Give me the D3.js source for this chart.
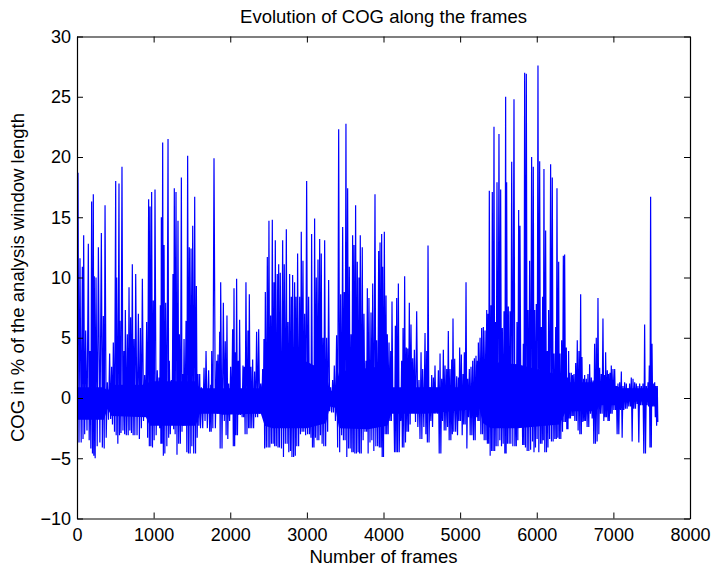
<!DOCTYPE html>
<html>
<head>
<meta charset="utf-8">
<script src="https://cdn.jsdelivr.net/npm/d3@7"></script>
<style>
  html, body { margin: 0; padding: 0; background: #fff; }
  svg { display: block; }
  text { font-family: "Liberation Sans", Arial, Helvetica, sans-serif; fill: #000; }
</style>
</head>
<body>
<svg id="chart" width="712" height="570"></svg>
<script>
// ---- data (local maxima / following minima) ----
const frames = [
  13,39,70,87,113,148,170,191,213,226,248,279,318,344,366,396,426,452,474,505,518,548,561,587,613,631,657,679,700,722,744,766,801,827,853,883,909,935,953,974,996,1018,1048,1070,1088,1101,1118,1136,1157,1188,1205,1231,1253,1270,1292,1318,1336,1362,1379,1397,1423,1444,1466,1488,1510,1536,1558,1579,1601,1623,1658,1684,1718,1745,1758,1788,1823,1840,1862,1875,1910,
  1935,1957,1979,2005,2031,2049,2066,2083,2105,2122,2144,2166,2183,2205,2231,2249,2270,2292,2318,2344,2371,2397,2423,2440,2458,2484,2505,2527,2549,2571,2588,2614,2632,2653,2684,2705,2732,2753,2775,2797,2814,2840,2858,2879,2906,2927,2949,2971,2997,3023,3045,3062,3084,3101,3123,3145,3167,3188,3210,3232,3258,3284,3310,3336,3358,3388,3415,3441,3467,3488,3510,3532,3554,3576,3597,3615,3636,3658,3680,3697,3723,3745,3771,3789,3810,
  3837,3859,3889,3911,3937,3955,3976,3989,4011,4033,4050,4072,4094,4111,4133,4155,4172,4194,4216,4237,4255,4276,4298,4316,4337,4359,4381,4403,4433,4463,4490,4511,4542,4564,4581,4607,4629,4651,4672,4694,4716,4738,4759,4781,4803,4825,4846,4868,4890,4907,4929,4955,4977,4994,5016,5038,5055,5077,5099,5120,5142,5164,5186,5207,5225,5238,5260,5281,5303,5325,5347,5364,5381,5403,5420,5442,5460,5481,5507,5529,5551,5573,5594,5607,5629,5651,5673,5703,5725,5742,
  5764,5781,5807,5825,5842,5864,5886,5907,5933,5955,5973,5994,6016,6038,6060,6077,6094,6116,6138,6155,6181,6203,6225,6247,6264,6286,6303,6325,6347,6364,6386,6399,6416,6429,6451,6468,6486,6508,6529,6551,6573,6590,6612,6625,6647,6668,6690,6712,6734,6755,6777,6799,6821,6842,6864,6886,6899,6921,6938,6956,6973,6995,7017,7038,7060,7082,7104,7125,7147,7169,7190,7212,7234,7256,7278,7299,7321,7343,7365,7386,7408,7430,7452,7469,7486,7504,7521,7539,7556,7573
];
const peaks = [
  18.7,11.6,10.9,13.5,5.6,12.8,3.9,16.3,16.9,10.1,10.0,12.5,13.7,6.8,16.0,1.3,3.7,2.6,4.6,18.0,10.0,17.8,6.4,19.2,3.9,7.3,5.3,9.2,6.7,11.1,4.9,10.3,7.0,5.8,9.9,1.9,6.3,16.5,15.9,17.1,8.1,17.3,2.3,1.7,7.7,15.0,21.2,12.7,7.9,21.5,3.1,1.5,10.3,17.4,17.1,14.7,5.3,18.3,2.0,4.9,6.4,20.1,12.5,12.4,14.3,16.7,9.3,2.0,2.0,0.9,2.5,3.9,2.3,1.1,3.9,19.9,3.1,3.6,5.5,9.6,7.9,
  4.7,6.85,1.2,2.6,5.7,9.1,3.8,9.9,3.1,6.5,0.35,2.7,2.6,9.6,5.6,8.6,2.6,3.2,2.2,5.5,5.7,1.2,2.4,4.9,8.8,11.7,14.7,6.85,14.8,9.6,13.1,10.3,11.1,10.4,13.1,11.1,14.0,6.3,10.3,8.4,10.2,9.6,8.4,12.0,8.4,13.8,11.4,7.0,18.0,8.4,1.5,13.6,2.0,14.9,10.0,11.5,13.2,12.0,5.0,13.1,5.0,9.8,0.9,1.5,2.7,5.2,22.3,8.6,14.2,8.8,22.75,17.4,10.9,5.3,13.5,12.7,16.0,11.3,10.0,13.5,12.5,7.0,3.1,9.1,8.3,
  7.1,9.5,16.9,4.8,12.2,12.9,13.6,10.9,13.8,8.5,5.3,4.6,3.9,8.0,0.35,6.0,8.3,9.5,0.1,3.1,5.8,10.1,4.2,4.1,7.9,6.1,3.3,4.0,7.2,1.5,3.8,2.4,5.4,3.9,12.65,0.9,1.9,1.7,2.7,0.75,2.3,3.7,1.6,4.0,2.7,2.4,5.55,2.4,3.2,6.6,3.25,1.8,1.7,4.2,3.6,2.0,3.8,9.6,1.6,2.4,2.6,3.1,3.3,3.5,3.1,4.6,5.0,5.8,5.9,5.6,7.3,7.0,17.2,7.7,17.1,22.5,6.3,17.9,21.9,17.3,5.8,7.2,25.0,17.9,7.6,7.2,19.6,24.8,1.7,6.3,
  15.6,14.3,1.45,4.5,27.0,26.9,7.3,11.4,20.0,19.2,7.3,7.8,27.6,19.65,5.9,8.4,19.0,13.9,3.9,7.3,19.4,18.3,3.7,5.9,17.4,11.3,3.7,4.8,11.8,11.9,4.2,1.7,3.9,2.1,2.1,1.9,2.0,2.9,4.8,3.9,8.6,3.4,1.6,1.9,1.6,2.0,2.8,1.7,1.45,4.5,5.0,8.3,2.5,2.0,6.6,1.9,3.8,2.3,2.0,2.1,2.7,2.4,2.4,1.0,1.2,1.3,2.2,1.0,1.3,1.2,0.8,1.2,1.7,1.6,1.3,1.2,1.0,1.2,1.0,1.2,6.1,1.0,1.3,2.7,16.7,4.5,1.2,1.3,1.0,1.0
];
const troughs = [
  -3.7,-3.7,-3.4,-3.0,-2.7,-3.5,-4.2,-4.6,-4.8,-5.0,-4.0,-3.7,-4.1,-4.2,-3.3,-1.8,-1.75,-2.2,-2.8,-3.1,-3.8,-3.1,-2.9,-2.7,-3.0,-3.1,-3.1,-2.7,-2.9,-3.1,-3.1,-3.1,-3.4,-2.5,-1.9,-1.3,-3.3,-4.0,-4.0,-4.1,-3.5,-3.1,-1.3,-2.5,-3.8,-3.8,-4.8,-4.6,-4.0,-3.3,-3.0,-1.75,-2.6,-3.0,-4.7,-3.8,-3.8,-2.8,-2.3,-2.3,-4.5,-4.6,-4.6,-4.0,-4.6,-4.6,-3.3,-2.3,-2.5,-2.5,-1.9,-2.5,-2.8,-2.8,-2.5,-2.5,-1.3,-1.3,-4.2,-4.2,-1.9,
  -3.1,-3.4,-1.9,-1.3,-4.0,-4.0,-3.1,-3.1,-1.4,-1.4,-1.6,-1.6,-3.0,-3.0,-2.5,-2.5,-2.5,-2.5,-1.6,-1.6,-1.3,-1.3,-1.3,-4.2,-4.1,-4.1,-4.1,-3.8,-3.8,-4.0,-4.0,-4.1,-4.1,-4.2,-4.9,-3.8,-3.8,-4.5,-4.4,-4.9,-4.9,-4.8,-4.0,-4.0,-3.0,-2.8,-2.8,-3.1,-3.0,-3.0,-3.3,-4.1,-4.1,-3.3,-3.5,-3.5,-3.1,-3.8,-4.0,-4.0,-2.8,-1.1,-1.2,-1.2,-1.9,-4.1,-4.5,-3.1,-3.5,-3.5,-4.9,-4.2,-4.2,-4.5,-4.5,-4.6,-4.6,-4.5,-4.6,-4.6,-3.5,-2.8,-2.8,-4.6,-3.7,
  -3.5,-4.4,-4.0,-4.0,-4.1,-4.1,-4.9,-4.9,-3.0,-3.0,-3.0,-1.9,-1.9,-0.8,-4.5,-4.5,-4.5,-4.5,-1.9,-4.1,-4.1,-3.7,-2.8,-2.8,-2.2,-1.1,-1.1,-2.0,-2.4,-3.4,-3.4,-2.4,-3.0,-3.7,-3.7,-1.9,-2.4,-1.3,-1.3,-1.3,-4.6,-4.6,-1.9,-2.7,-2.7,-2.4,-3.5,-3.5,-3.0,-2.8,-2.8,-3.1,-1.9,-1.9,-3.1,-2.2,-2.2,-4.2,-1.6,-3.1,-3.1,-3.5,-3.5,-1.6,-1.9,-1.9,-3.0,-3.0,-3.5,-3.5,-3.8,-3.8,-4.8,-4.4,-4.4,-4.4,-4.0,-4.0,-3.5,-4.0,-3.8,-4.6,-4.6,-3.8,-3.8,-3.8,-4.0,-4.0,-4.0,-3.5,
  -1.9,-1.9,-3.9,-3.9,-4.1,-4.4,-4.4,-4.3,-3.6,-4.5,-4.1,-3.4,-4.5,-3.8,-3.8,-3.5,-4.5,-4.5,-4.1,-3.4,-3.6,-3.6,-3.4,-3.4,-3.3,-3.4,-3.4,-2.8,-2.0,-2.0,-2.6,-2.6,-1.7,-1.7,-1.5,-1.5,-1.9,-1.9,-2.7,-3.0,-3.0,-2.0,-1.9,-1.9,-2.4,-2.4,-1.3,-1.7,-3.8,-3.8,-3.6,-3.0,-1.3,-1.3,-1.9,-1.6,-1.6,-1.9,-1.9,-1.3,-1.3,-1.0,-1.0,-3.0,-3.0,-1.0,-3.3,-1.0,-0.9,-0.9,-0.7,-0.7,-3.6,-0.9,-0.9,-0.5,-3.7,-0.6,-0.6,-4.6,-4.6,-0.6,-0.7,-4.1,-4.1,-0.7,-0.7,-1.6,-2.3,-2.0
];
// dense (fully overplotted) core of the signal
const coreFrames = [0, 350, 400, 450, 900, 950, 1550, 1600, 1850, 1900, 2400, 2450, 2550, 3000, 3250, 3300, 3370, 3420, 3800, 4050, 4100, 4550, 5250, 5300, 5400, 5750, 6300, 6380, 6780, 6820, 7050, 7100, 7580];
const coreHigh   = [0.9, 0.9, 0.6, 1.1, 1.1, 1.4, 1.4, 0.8, 0.8, 0.8, 0.8, 2.4, 3.0, 3.0, 2.2, 0.6, 0.6, 2.2, 2.5, 2.7, 0.9, 0.9, 0.9, 2.2, 3.0, 2.8, 1.9, 1.3, 1.3, 1.1, 1.0, 0.8, 0.8];
const coreLow    = [-1.8, -1.8, -0.9, -1.5, -1.6, -2.3, -2.3, -1.3, -1.3, -1.4, -1.3, -2.3, -2.5, -2.5, -2.1, -0.7, -0.8, -2.5, -2.6, -2.3, -1.3, -1.3, -0.9, -2.1, -2.5, -2.5, -2.2, -1.1, -1.1, -0.6, -0.6, -0.3, -0.3];

const xTicks = [0, 1000, 2000, 3000, 4000, 5000, 6000, 7000, 8000];
const yTicks = [-10, -5, 0, 5, 10, 15, 20, 25, 30];
const titleText = "Evolution of COG along the frames";
const xLabelText = "Number of frames";
const yLabelText = "COG in % of the analysis window length";

// ---- drawing ----
const svg = d3.select("#chart");
const mLeft = 77, mRight = 690, mTop = 36.5, mBottom = 518.5;

const x = d3.scaleLinear().domain([0, 8000]).range([mLeft, mRight]);
const y = d3.scaleLinear().domain([-10, 30]).range([mBottom, mTop]);

// dense core
const core = coreFrames.map((f, i) => ({ f, hi: coreHigh[i], lo: coreLow[i] }));
svg.append("path")
  .attr("d", d3.area().x(d => x(d.f)).y0(d => y(d.lo)).y1(d => y(d.hi))(core))
  .attr("fill", "#0000ff");

// build the signal: each local maximum followed by its local minimum
const n = Math.min(frames.length, peaks.length, troughs.length);
const pts = [];
for (let i = 0; i < n; i++) {
  const f = frames[i];
  pts.push([f, peaks[i]]);
  const nf = i + 1 < n ? frames[i + 1] : f + 14;
  pts.push([(f + nf) / 2, troughs[i]]);
}

const line = d3.line().x(d => x(d[0])).y(d => y(d[1]));
svg.append("path")
  .attr("d", line(pts))
  .attr("fill", "none")
  .attr("stroke", "#0000ff")
  .attr("stroke-width", 1.2)
  .attr("stroke-linejoin", "miter");

const fmt = v => (v < 0 ? "\u2212" + Math.abs(v) : String(v));

// axes (box with inward ticks on all four sides)
const axB = d3.axisBottom(x).tickValues(xTicks).tickSizeInner(-6).tickSizeOuter(0).tickPadding(10).tickFormat(fmt);
const axT = d3.axisTop(x).tickValues(xTicks).tickSizeInner(-6).tickSizeOuter(0).tickFormat("");
const axL = d3.axisLeft(y).tickValues(yTicks).tickSizeInner(-6).tickSizeOuter(0).tickPadding(6).tickFormat(fmt);
const axR = d3.axisRight(y).tickValues(yTicks).tickSizeInner(-6).tickSizeOuter(0).tickFormat("");

function style(g) {
  g.selectAll("path").attr("stroke", "#000").attr("stroke-width", 1.2);
  g.selectAll("line").attr("stroke", "#000").attr("stroke-width", 1);
  g.selectAll("text").attr("font-size", 18).attr("font-family", "Liberation Sans, Arial, sans-serif").attr("fill", "#000");
}
svg.append("g").attr("transform", `translate(0,${mBottom})`).call(axB).call(style);
svg.append("g").attr("transform", `translate(0,${mTop})`).call(axT).call(style);
svg.append("g").attr("transform", `translate(${mLeft},0)`).call(axL).call(style);
svg.append("g").attr("transform", `translate(${mRight},0)`).call(axR).call(style);

// title and labels
svg.append("text").attr("x", (mLeft + mRight) / 2).attr("y", 23)
  .attr("text-anchor", "middle").attr("font-size", 18.5).text(titleText);
svg.append("text").attr("x", (mLeft + mRight) / 2).attr("y", 563)
  .attr("text-anchor", "middle").attr("font-size", 18.5).text(xLabelText);
svg.append("text").attr("transform", `translate(24,${(mTop + mBottom) / 2}) rotate(-90)`)
  .attr("text-anchor", "middle").attr("font-size", 18.5).text(yLabelText);
</script>
</body>
</html>
